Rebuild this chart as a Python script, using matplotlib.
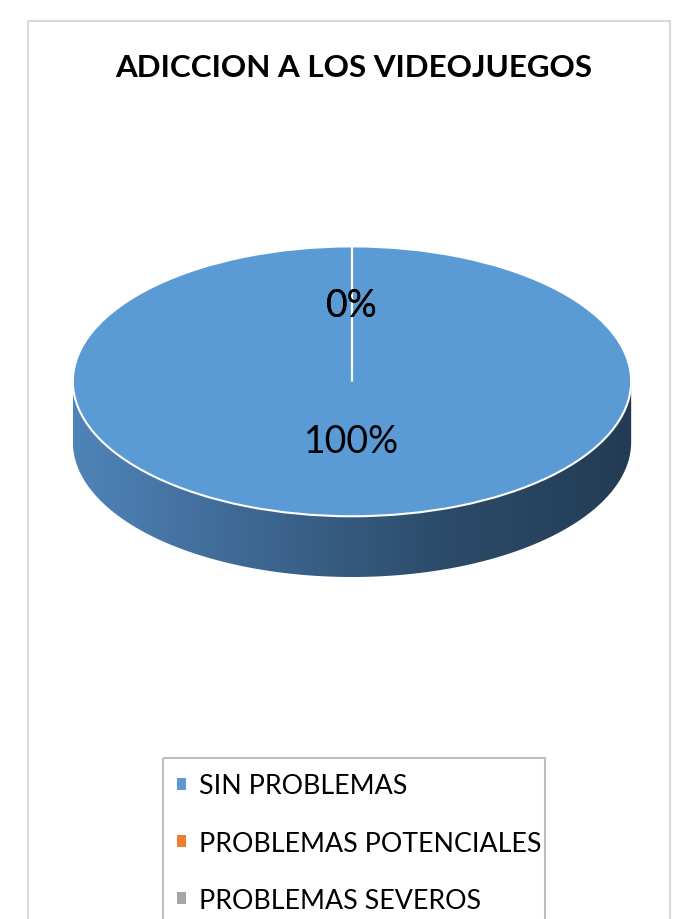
import numpy as np
import matplotlib
matplotlib.use('Agg')
import matplotlib.pyplot as plt
from matplotlib.patches import Polygon, Rectangle
from matplotlib.colors import LinearSegmentedColormap

plt.rcParams['font.family'] = ['Lato', 'DejaVu Sans']

title = 'ADICCION A LOS VIDEOJUEGOS'
categories = ['SIN PROBLEMAS', 'PROBLEMAS POTENCIALES', 'PROBLEMAS SEVEROS']
values = [100, 0, 0]
colors = ['#5B9BD5', '#ED7D31', '#A5A5A5']

W, H = 677, 920
fig = plt.figure(figsize=(W / 100, H / 100), dpi=100)
fig.patch.set_facecolor('white')

# chart area border and legend box (both cut off at the bottom in the original)
bg = fig.add_axes([0, 0, 1, 1])
bg.set_xlim(0, W)
bg.set_ylim(H, 0)
bg.axis('off')
bg.add_patch(Rectangle((28, 22), 642, 920, fill=False, edgecolor='#d9d9d9', lw=1.5))
bg.add_patch(Rectangle((163, 759), 382, 200, fill=False, edgecolor='#bfbfbf', lw=1.5))

# pie axes: top ellipse from y=247 to 517, side goes down to 578
depth = 0.45
top_px, bot_px = 247, 578
ax = fig.add_axes([72 / W, 1 - bot_px / H, 560 / W, (bot_px - top_px) / H])
ax.axis('off')

# side of the 3D disc with a horizontal gradient
t = np.linspace(np.pi, 2 * np.pi, 200)
upper = np.column_stack([np.cos(t), np.sin(t)])
lower = np.column_stack([np.cos(t[::-1]), np.sin(t[::-1]) - depth])
side = Polygon(np.vstack([upper, lower]), closed=True, facecolor='none', edgecolor='none')
ax.add_patch(side)
cmap = LinearSegmentedColormap.from_list('side', ['#4f84b8', '#3d6691', '#2c4b69', '#233c54'])
grad = np.linspace(0, 1, 256).reshape(1, -1)
img = ax.imshow(grad, cmap=cmap, extent=(-1, 1, -1 - depth, 0), aspect='auto', zorder=1)
img.set_clip_path(side)

wedges, texts, autotexts = ax.pie(values, colors=colors, startangle=90, counterclock=False,
                                  autopct='%1.0f%%', pctdistance=0.5,
                                  wedgeprops=dict(edgecolor='white', linewidth=1.5),
                                  textprops=dict(fontsize=27, color='black'))
for w in wedges:
    w.set_zorder(2)
for a in autotexts:
    a.set_zorder(3)
    x, y = a.get_position()
    a.set_position((x, y * (1.13 if y > 0 else 0.88)))

ax.set_aspect('auto')
ax.set_xlim(-1.003, 1.003)
ax.set_ylim(-1 - depth, 1.003)

fig.text(354 / W, 1 - 68 / H, title, ha='center', va='center', fontsize=22.6, fontweight='bold')

leg = fig.legend(wedges, categories, loc='upper left', bbox_to_anchor=(177 / W, 1 - 774.5 / H),
                 fontsize=19.3, frameon=False, handlelength=0.33, handleheight=0.33,
                 handletextpad=0.48, labelspacing=1.2, borderpad=0, borderaxespad=0)
for h in leg.legend_handles:
    h.set_edgecolor('none')

fig.savefig('out.png', dpi=100, facecolor='white')
